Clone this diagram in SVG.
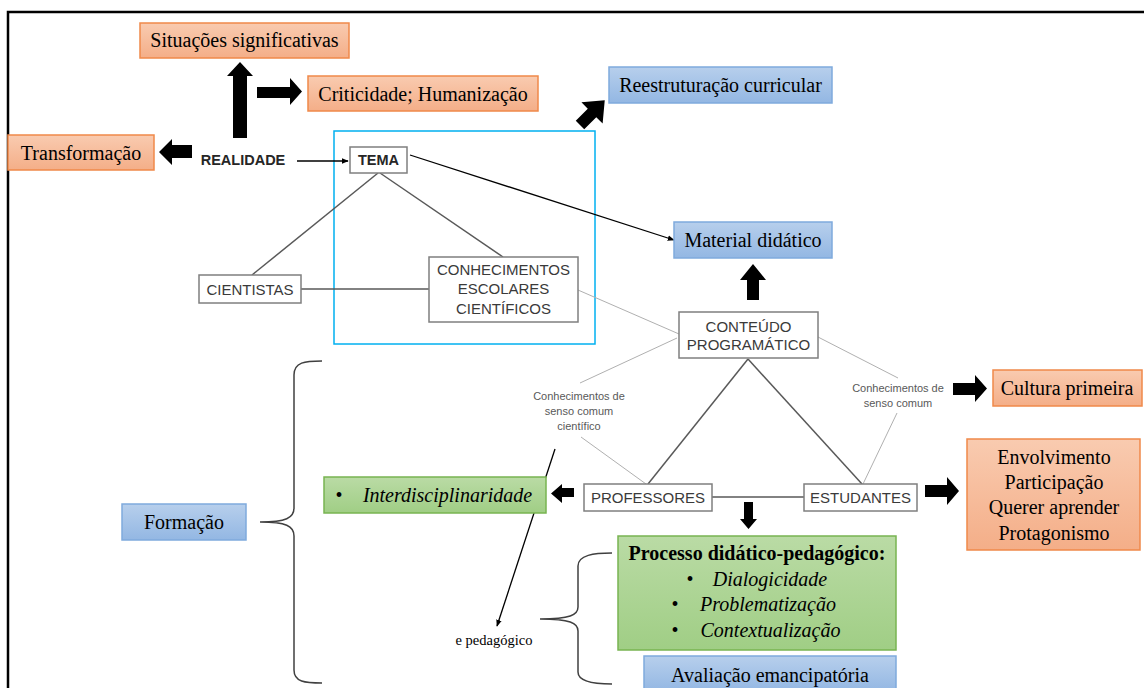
<svg xmlns="http://www.w3.org/2000/svg" width="1144" height="688" viewBox="0 0 1144 688">
<defs>
<linearGradient id="gO" x1="0" y1="0" x2="0" y2="1"><stop offset="0" stop-color="#F9CBB0"/><stop offset="1" stop-color="#F4AE88"/></linearGradient>
<linearGradient id="gB" x1="0" y1="0" x2="0" y2="1"><stop offset="0" stop-color="#B7CFEC"/><stop offset="1" stop-color="#93B7E3"/></linearGradient>
<linearGradient id="gG" x1="0" y1="0" x2="0" y2="1"><stop offset="0" stop-color="#BADBA5"/><stop offset="1" stop-color="#A0CE85"/></linearGradient>
<marker id="ah" viewBox="0 0 10 10" refX="9" refY="5" markerWidth="7" markerHeight="7" orient="auto" markerUnits="userSpaceOnUse"><path d="M0,1 L10,5 L0,9 Z" fill="#000"/></marker>
<style>
.or{fill:url(#gO);stroke:#F0894A;stroke-width:1.5}
.bl{fill:url(#gB);stroke:#7FAADD;stroke-width:1.5}
.gr{fill:url(#gG);stroke:#78B451;stroke-width:1.5}
.gy{fill:#fff;stroke:#7f7f7f;stroke-width:1.5}
.sr{font-family:"Liberation Serif","Times New Roman",serif;font-size:20px;fill:#000;text-anchor:middle}
.it{font-style:italic}
.bd{font-weight:bold}
.small{font-size:14.5px}
.sa{font-family:"Liberation Sans",Arial,sans-serif;font-size:15px;fill:#3a3a3a;text-anchor:middle}
.sb{font-family:"Liberation Sans",Arial,sans-serif;font-size:14.5px;font-weight:bold;fill:#262626;text-anchor:middle}
.sm{font-family:"Liberation Sans",Arial,sans-serif;font-size:11px;fill:#595959;text-anchor:middle}
.blk{fill:#000}
.ln{stroke:#595959;stroke-width:1.5;fill:none}
.lt{stroke:#b0b0b0;stroke-width:1;fill:none}
.ar{stroke:#000;stroke-width:1.3;fill:none;marker-end:url(#ah)}
.br{stroke:#404040;stroke-width:1.5;fill:none}
</style>
</defs>
<rect width="1144" height="688" fill="#fff"/>
<path d="M8,688 L8,12 L1144,12" fill="none" stroke="#000" stroke-width="2.5"/>
<rect x="334" y="131" width="261" height="213" fill="none" stroke="#00B0F0" stroke-width="1.5"/>

<g id="connectors">
<line class="ar" x1="297" y1="161" x2="348" y2="161"/>
<line class="ar" x1="410" y1="155" x2="674" y2="240"/>
<line class="ln" x1="378" y1="173" x2="252" y2="275"/>
<line class="ln" x1="380" y1="173" x2="503" y2="257"/>
<line class="ln" x1="301" y1="289" x2="429" y2="289"/>
<line class="lt" x1="578" y1="290" x2="679" y2="334"/>
<line class="lt" x1="677" y1="338" x2="580" y2="383"/>
<line class="lt" x1="581" y1="437" x2="646" y2="484"/>
<line class="lt" x1="818" y1="337" x2="898" y2="378"/>
<line class="lt" x1="897" y1="413" x2="863" y2="484"/>
<line class="ln" x1="748" y1="359" x2="648" y2="484"/>
<line class="ln" x1="748" y1="359" x2="862" y2="484"/>
<line class="ln" x1="712" y1="497" x2="804" y2="497"/>
<line class="ar" x1="555" y1="449" x2="497" y2="626"/>
<path class="br" d="M322,361 C305,361 294,362 294,375 L294,508 C294,518 286,522 260,522 C286,522 294,526 294,536 L294,670 C294,682 305,683 322,683"/>
<path class="br" d="M612,553 C594,553 578,555 578,566 L578,607 C578,615 570,619 540,619 C570,619 578,623 578,631 L578,672 C578,682 594,684 612,684"/>
<polygon class="blk" points="233,138 233,76 227,76 240,62 253,76 247,76 247,138"/>
<polygon class="blk" points="257,87 290,87 290,78 302,91.5 290,105 290,98 257,98"/>
<polygon class="blk" points="192,145 172,145 172,139 159,152 172,165 172,158 192,158"/>
<polygon class="blk" transform="translate(580,125) rotate(-45)" points="0,-6 17,-6 17,-15 35,0 17,15 17,6 0,6"/>
<polygon class="blk" points="747,300 747,280 740,280 753,264 766,280 759,280 759,300"/>
<polygon class="blk" points="574,488 562,488 562,484 551,493.5 562,503 562,497 574,497"/>
<polygon class="blk" points="744,502 753,502 753,519 757,519 748.5,529 740,519 744,519"/>
<polygon class="blk" points="953,383 975,383 975,375 987,388.5 975,402 975,395 953,395"/>
<polygon class="blk" points="925,485 947,485 947,477 959,491 947,505 947,497 925,497"/>
</g>

<g id="situacoes"><rect class="or" x="140" y="23" width="209" height="35"/><text class="sr" x="244.5" y="46.5">Situações significativas</text></g>
<g id="criticidade"><rect class="or" x="308" y="76" width="230" height="35"/><text class="sr" x="423" y="100.5">Criticidade; Humanização</text></g>
<g id="transformacao"><rect class="or" x="8" y="135" width="146" height="35"/><text class="sr" x="81" y="159.5">Transformação</text></g>
<g id="realidade"><text class="sb" x="243" y="165">REALIDADE</text></g>
<g id="tema"><rect class="gy" x="350" y="147" width="57" height="26"/><text class="sb" x="378.5" y="165">TEMA</text></g>
<g id="reestruturacao"><rect class="bl" x="609" y="67" width="223" height="36"/><text class="sr" x="720.5" y="91.5">Reestruturação curricular</text></g>
<g id="material"><rect class="bl" x="674" y="222" width="158" height="36"/><text class="sr" x="753" y="246.5">Material didático</text></g>
<g id="cientistas"><rect class="gy" x="199" y="275" width="102" height="28"/><text class="sa" x="250" y="294.5">CIENTISTAS</text></g>
<g id="conhecimentos"><rect class="gy" x="429" y="257" width="149" height="65"/><text class="sa" x="503.5" y="274.5">CONHECIMENTOS</text><text class="sa" x="503.5" y="294">ESCOLARES</text><text class="sa" x="503.5" y="313.5">CIENTÍFICOS</text></g>
<g id="conteudo"><rect class="gy" x="679" y="312" width="139" height="46"/><text class="sa" x="748.5" y="332">CONTEÚDO</text><text class="sa" x="748.5" y="350">PROGRAMÁTICO</text></g>
<g id="senso-cientifico"><text class="sm" x="579" y="400">Conhecimentos de</text><text class="sm" x="579" y="415">senso comum</text><text class="sm" x="579" y="430">científico</text></g>
<g id="senso-comum"><text class="sm" x="898" y="392">Conhecimentos de</text><text class="sm" x="898" y="407">senso comum</text></g>
<g id="cultura"><rect class="or" x="993" y="370" width="149" height="36"/><text class="sr" x="1067" y="394.5">Cultura primeira</text></g>
<g id="envolvimento"><rect class="or" x="967" y="439" width="173" height="111"/><text class="sr" x="1054" y="463.5">Envolvimento</text><text class="sr" x="1054" y="488.5">Participação</text><text class="sr" x="1054" y="514">Querer aprender</text><text class="sr" x="1054" y="540">Protagonismo</text></g>
<g id="professores"><rect class="gy" x="584" y="484" width="128" height="27"/><text class="sa" x="648" y="503">PROFESSORES</text></g>
<g id="estudantes"><rect class="gy" x="804" y="484" width="113" height="27"/><text class="sa" x="860.5" y="503">ESTUDANTES</text></g>
<g id="interdisciplinaridade"><rect class="gr" x="324" y="477" width="222" height="36"/><text class="sr" x="339" y="501.5">•</text><text class="sr it" x="447.5" y="501.5">Interdisciplinaridade</text></g>
<g id="formacao"><rect class="bl" x="122" y="504" width="124" height="36"/><text class="sr" x="184" y="528.5">Formação</text></g>
<g id="processo"><rect class="gr" x="618" y="536" width="278" height="114"/><text class="sr bd" x="757" y="559.5">Processo didático-pedagógico:</text><text class="sr" x="690" y="585.5">•</text><text class="sr it" x="770" y="585.5">Dialogicidade</text><text class="sr" x="675" y="611">•</text><text class="sr it" x="768" y="611">Problematização</text><text class="sr" x="675" y="637">•</text><text class="sr it" x="770.5" y="637">Contextualização</text></g>
<g id="epedagogico"><text class="sr small" x="494" y="645">e pedagógico</text></g>
<g id="avaliacao"><rect class="bl" x="644" y="656" width="252" height="36"/><text class="sr" x="770" y="681.5">Avaliação emancipatória</text></g>
</svg>
